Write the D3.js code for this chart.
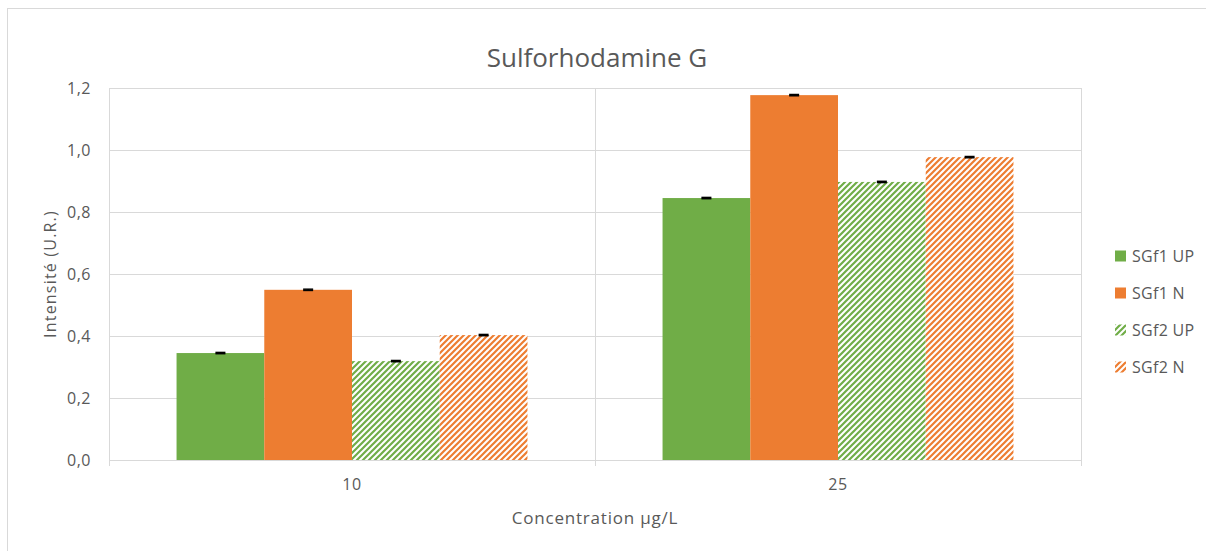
<!DOCTYPE html>
<html>
<head>
<meta charset="utf-8">
<script src="https://cdn.jsdelivr.net/npm/d3@7"></script>
<style>
  body { margin: 0; background: #fff; }
  svg { font-family: "Open Sans", "Noto Sans", sans-serif; }
</style>
</head>
<body>
<div id="chart"></div>
<script>
// Data
const categories = ["10", "25"];
const seriesNames = ["SGf1 UP", "SGf1 N", "SGf2 UP", "SGf2 N"];
const sgf1Up = [0.345, 0.845];
const sgf1N = [0.549, 1.177];
const sgf2Up = [0.319, 0.897];
const sgf2N = [0.403, 0.977];
const errors = [0.002, 0.002, 0.002, 0.002];
const yTicks = [0, 0.2, 0.4, 0.6, 0.8, 1.0, 1.2];

const seriesValues = [sgf1Up, sgf1N, sgf2Up, sgf2N];
const colors = ["#70AD47", "#ED7D31", "#70AD47", "#ED7D31"];
const hatched = [false, false, true, true];

const width = 1206, height = 551;
const margin = { top: 88, right: 125, bottom: 91, left: 109 };

const svg = d3.select("#chart")
    .append("svg")
    .attr("width", width)
    .attr("height", height);

// Outer chart border (cut off at right and bottom, like the screenshot)
svg.append("rect")
    .attr("x", 7.5).attr("y", 8.5)
    .attr("width", width + 20).attr("height", height + 20)
    .attr("fill", "#fff")
    .attr("stroke", "#d9d9d9");

// Hatch patterns
const defs = svg.append("defs");
colors.forEach((c, i) => {
    if (!hatched[i]) return;
    const p = defs.append("pattern")
        .attr("id", "hatch" + i)
        .attr("patternUnits", "userSpaceOnUse")
        .attr("width", 6).attr("height", 6);
    p.append("rect").attr("width", 6).attr("height", 6).attr("fill", "#fff");
    p.append("path")
        .attr("d", "M-1,1 l2,-2 M0,6 l6,-6 M5,7 l2,-2")
        .attr("stroke", c)
        .attr("stroke-width", 2.2);
});

const x0 = d3.scaleBand()
    .domain(categories)
    .range([margin.left, width - margin.right]);

const x1 = d3.scaleBand()
    .domain(d3.range(seriesNames.length))
    .range([0, x0.bandwidth()])
    .paddingOuter(0.77);

const y = d3.scaleLinear()
    .domain([0, 1.2])
    .range([height - margin.bottom, margin.top]);

// Gridlines
svg.append("g")
    .selectAll("line")
    .data(yTicks)
    .enter()
    .append("line")
    .attr("x1", margin.left).attr("x2", width - margin.right)
    .attr("y1", d => Math.round(y(d)) + 0.5)
    .attr("y2", d => Math.round(y(d)) + 0.5)
    .attr("stroke", "#d9d9d9");

// Vertical category dividers
const dividers = [x0.range()[0], x0("25"), x0.range()[1]];
svg.append("g")
    .selectAll("line")
    .data(dividers)
    .enter()
    .append("line")
    .attr("x1", d => Math.round(d) + 0.5).attr("x2", d => Math.round(d) + 0.5)
    .attr("y1", margin.top)
    .attr("y2", height - margin.bottom + 6)
    .attr("stroke", "#d9d9d9");

// Y tick labels
svg.append("g")
    .selectAll("text")
    .data(yTicks)
    .enter()
    .append("text")
    .attr("x", 91)
    .attr("y", d => y(d))
    .attr("dy", "0.35em")
    .attr("text-anchor", "end")
    .attr("font-size", 16)
    .attr("letter-spacing", 0.5)
    .attr("fill", "#595959")
    .text(d => d.toFixed(1).replace(".", ","));

// X tick labels
svg.append("g")
    .selectAll("text")
    .data(categories)
    .enter()
    .append("text")
    .attr("x", d => x0(d) + x0.bandwidth() / 2)
    .attr("y", 490)
    .attr("text-anchor", "middle")
    .attr("font-size", 16)
    .attr("letter-spacing", 0.5)
    .attr("fill", "#595959")
    .text(d => d);

// Bars
const groups = svg.selectAll("g.cat")
    .data(categories)
    .enter()
    .append("g")
    .attr("class", "cat")
    .attr("transform", d => `translate(${x0(d)},0)`);

groups.selectAll("rect")
    .data((d, ci) => seriesValues.map((vals, si) => ({ si, v: vals[ci] })))
    .enter()
    .append("rect")
    .attr("x", d => x1(d.si))
    .attr("width", x1.bandwidth())
    .attr("y", d => y(d.v))
    .attr("height", d => y(0) - y(d.v))
    .attr("fill", d => hatched[d.si] ? `url(#hatch${d.si})` : colors[d.si]);

// Error bars
groups.selectAll("g.err")
    .data((d, ci) => seriesValues.map((vals, si) => ({ si, v: vals[ci], e: errors[si] })))
    .enter()
    .append("g")
    .attr("class", "err")
    .each(function(d) {
        const g = d3.select(this);
        const cx = x1(d.si) + x1.bandwidth() / 2;
        g.append("line")
            .attr("x1", cx).attr("x2", cx)
            .attr("y1", y(d.v + d.e)).attr("y2", y(d.v - d.e))
            .attr("stroke", "#000").attr("stroke-width", 1.5);
        [d.v + d.e, d.v - d.e].forEach(t => {
            g.append("line")
                .attr("x1", cx - 5).attr("x2", cx + 5)
                .attr("y1", y(t)).attr("y2", y(t))
                .attr("stroke", "#000").attr("stroke-width", 1.5);
        });
    });

// Title
svg.append("text")
    .attr("x", 597)
    .attr("y", 67)
    .attr("text-anchor", "middle")
    .attr("font-size", 26)
    .attr("fill", "#595959")
    .text("Sulforhodamine G");

// Axis titles
svg.append("text")
    .attr("transform", `translate(56,${(margin.top + height - margin.bottom) / 2}) rotate(-90)`)
    .attr("text-anchor", "middle")
    .attr("font-size", 16)
    .attr("letter-spacing", 1.2)
    .attr("fill", "#595959")
    .text("Intensité (U.R.)");

svg.append("text")
    .attr("x", 595)
    .attr("y", 524)
    .attr("text-anchor", "middle")
    .attr("font-size", 17)
    .attr("letter-spacing", 0.8)
    .attr("fill", "#595959")
    .text("Concentration µg/L");

// Legend
const legend = svg.selectAll("g.legend")
    .data(seriesNames)
    .enter()
    .append("g")
    .attr("class", "legend")
    .attr("transform", (d, i) => `translate(1115,${256 + i * 37})`);

legend.append("rect")
    .attr("x", 0).attr("y", -5.5)
    .attr("width", 11).attr("height", 11)
    .attr("fill", (d, i) => hatched[i] ? `url(#hatch${i})` : colors[i]);

legend.append("text")
    .attr("x", 17)
    .attr("dy", "0.35em")
    .attr("font-size", 16)
    .attr("letter-spacing", 0.3)
    .attr("fill", "#595959")
    .text(d => d);
</script>
</body>
</html>
